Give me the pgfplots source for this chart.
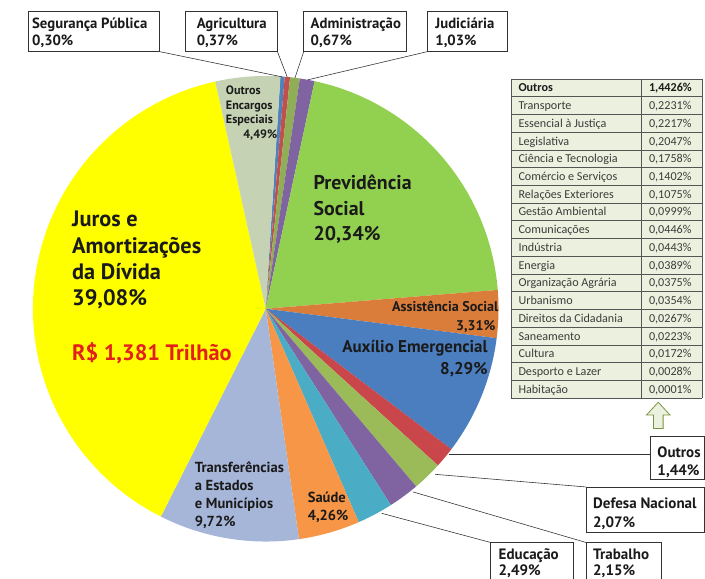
\documentclass[border=0pt]{standalone}
\usepackage{pgfplots}
\pgfplotsset{compat=1.18}
\usepackage{pgfplotstable}
\usepackage{fontspec}
\setmainfont{Carlito}
\newfontfamily\labfam{PT Sans}

\definecolor{c0}{HTML}{4F81BD}
\definecolor{c1}{HTML}{C0504D}
\definecolor{c2}{HTML}{8FAE55}
\definecolor{c3}{HTML}{8064A2}
\definecolor{c4}{HTML}{92D050}
\definecolor{c5}{HTML}{DA7D3A}
\definecolor{c6}{HTML}{4A7EBF}
\definecolor{c7}{HTML}{C9474A}
\definecolor{c8}{HTML}{9BBB59}
\definecolor{c9}{HTML}{8064A2}
\definecolor{c10}{HTML}{4BACC6}
\definecolor{c11}{HTML}{F79646}
\definecolor{c12}{HTML}{A6B6D8}
\definecolor{c13}{HTML}{FFFF00}
\definecolor{c14}{HTML}{C5D3B4}
\definecolor{tabfill}{HTML}{EBF1DE}
\definecolor{tabline}{HTML}{555555}
\definecolor{arrowline}{HTML}{77933C}
\definecolor{txt}{HTML}{1A1A1A}
\definecolor{redtxt}{HTML}{E3201B}

% Pie data (percent), clockwise from the top
\pgfplotstableread[col sep=comma]{
name,value
Seguranca Publica,0.30
Agricultura,0.37
Administracao,0.67
Judiciaria,1.03
Previdencia Social,20.34
Assistencia Social,3.31
Auxilio Emergencial,8.29
Outros,1.44
Defesa Nacional,2.07
Trabalho,2.15
Educacao,2.49
Saude,4.26
Transferencias,9.72
Juros e Amortizacoes,39.08
Outros Encargos Especiais,4.49
}\pietable

% cumulative angles
\xdef\curang{86.4}
\pgfplotsforeachungrouped \i in {0,...,14}{%
  \pgfplotstablegetelem{\i}{value}\of\pietable
  \pgfmathsetmacro\endang{\curang-3.6*\pgfplotsretval}%
  \expandafter\xdef\csname sa\i\endcsname{\curang}%
  \expandafter\xdef\csname ea\i\endcsname{\endang}%
  \xdef\curang{\endang}%
}

\newcommand\tabfont{\fontsize{12.5}{14}\selectfont}
\newcommand\trow[3]{%
  \node[anchor=base west, font=\tabfont, text=txt!85] at (axis cs:510,{513-18.2*#1-13.3}) {#2};
  \node[anchor=base west, font=\tabfont, text=txt!85] at (axis cs:644,{513-18.2*#1-13.3}) {#3};
}
\newcommand\LF[1]{\fontsize{#1}{#1}\labfam\bfseries\selectfont}

\begin{document}
\begin{tikzpicture}
\begin{axis}[x=1bp, y=1bp, xmin=0, xmax=705, ymin=0, ymax=594,
  hide axis, clip=false, anchor=origin, at={(0,0)}]
\path (axis cs:0,0) rectangle (axis cs:705,594);

% pie wedges
\pgfplotsinvokeforeach{0,...,14}{%
  \fill[c#1] (axis cs:254,277) -- ++(\csname sa#1\endcsname:239bp)
    arc[start angle=\csname sa#1\endcsname, end angle=\csname ea#1\endcsname, radius=239bp] -- cycle;
}

\begin{scope}[every node/.style={inner sep=0pt, text=txt}]
% big labels
\node[anchor=base west, font=\LF{23}] at (axis cs:55,361) {Juros e};
\node[anchor=base west, font=\LF{23}] at (axis cs:55,334) {Amortizações};
\node[anchor=base west, font=\LF{23}] at (axis cs:55,307) {da Dívida};
\node[anchor=base west, font=\LF{23}] at (axis cs:55,280) {39,08\%};
\node[anchor=base west, font=\LF{23}, text=redtxt] at (axis cs:55,224) {R\$ 1,381 Trilhão};

\node[anchor=base west, font=\LF{20.5}] at (axis cs:303,399) {Previdência};
\node[anchor=base west, font=\LF{20.5}] at (axis cs:303,373) {Social};
\node[anchor=base west, font=\LF{20.5}] at (axis cs:303,347) {20,34\%};

\node[anchor=base east, font=\LF{14.5}] at (axis cs:493,274) {Assistência Social};
\node[anchor=base east, font=\LF{14.5}] at (axis cs:490,255) {3,31\%};

\node[anchor=base east, font=\LF{17.5}] at (axis cs:482,232) {Auxílio Emergencial};
\node[anchor=base east, font=\LF{17.5}] at (axis cs:482,210) {8,29\%};

\node[anchor=base west, font=\LF{15}] at (axis cs:181,109) {Transferências};
\node[anchor=base west, font=\LF{15}] at (axis cs:181,90) {a Estados};
\node[anchor=base west, font=\LF{15}] at (axis cs:181,72) {e Municípios};
\node[anchor=base west, font=\LF{15}] at (axis cs:181,53) {9,72\%};

\node[anchor=base west, font=\LF{15}] at (axis cs:297,78) {Saúde};
\node[anchor=base west, font=\LF{15}] at (axis cs:297,60) {4,26\%};

\node[anchor=base west, font=\LF{12.5}] at (axis cs:213,497) {Outros};
\node[anchor=base west, font=\LF{12.5}] at (axis cs:213,482) {Encargos};
\node[anchor=base west, font=\LF{12.5}] at (axis cs:213,467) {Especiais};
\node[anchor=base east, font=\LF{12.5}] at (axis cs:266,452) {4,49\%};
\end{scope}

% top callouts
\draw[black!80, line width=0.6pt] (axis cs:145,541) -- (axis cs:271,515);
\draw[black!80, line width=0.6pt] (axis cs:266,541) -- (axis cs:276,515);
\draw[black!80, line width=0.6pt] (axis cs:293,541) -- (axis cs:284,514);
\draw[black!80, line width=0.6pt] (axis cs:420,541) -- (axis cs:297,512);
\draw[black!80, line width=0.6pt, fill=white] (axis cs:10,541) rectangle (axis cs:145,582);
\draw[black!80, line width=0.6pt, fill=white] (axis cs:171,541) rectangle (axis cs:266,582);
\draw[black!80, line width=0.6pt, fill=white] (axis cs:293,541) rectangle (axis cs:398,582);
\draw[black!80, line width=0.6pt, fill=white] (axis cs:420,541) rectangle (axis cs:502,582);

% right / bottom callouts
\draw[black!80, line width=0.6pt] (axis cs:442,128) -- (axis cs:649,128);
\draw[black!80, line width=0.6pt] (axis cs:428,107) -- (axis cs:583,94);
\draw[black!80, line width=0.6pt] (axis cs:405,89) -- (axis cs:583,37);
\draw[black!80, line width=0.6pt] (axis cs:373,67) -- (axis cs:485,37);
\draw[black!80, line width=0.6pt, fill=white] (axis cs:649,102) rectangle (axis cs:704,146);
\draw[black!80, line width=0.6pt, fill=white] (axis cs:583,47) rectangle (axis cs:704,94);
\draw[black!80, line width=0.6pt] (axis cs:583,0) -- (axis cs:583,37) -- (axis cs:660,37) -- (axis cs:660,0);
\draw[black!80, line width=0.6pt] (axis cs:485,0) -- (axis cs:485,37) -- (axis cs:570,37) -- (axis cs:570,0);

\begin{scope}[every node/.style={inner sep=0pt, text=txt, anchor=base west}]
\node[font=\LF{15.2}] at (axis cs:14,565) {Segurança Pública};
\node[font=\LF{15.2}] at (axis cs:14,547) {0,30\%};
\node[font=\LF{15.2}] at (axis cs:183,565) {Agricultura};
\node[font=\LF{15.2}] at (axis cs:183,547) {0,37\%};
\node[font=\LF{15.2}] at (axis cs:300,565) {Administração};
\node[font=\LF{15.2}] at (axis cs:300,547) {0,67\%};
\node[font=\LF{15.2}] at (axis cs:428,565) {Judiciária};
\node[font=\LF{15.2}] at (axis cs:428,547) {1,03\%};

\node[font=\LF{15.5}] at (axis cs:656,124) {Outros};
\node[font=\LF{15.5}] at (axis cs:656,106) {1,44\%};
\node[font=\LF{15.5}] at (axis cs:590,72) {Defesa Nacional};
\node[font=\LF{15.5}] at (axis cs:590,52) {2,07\%};
\node[font=\LF{15.5}] at (axis cs:590,20) {Trabalho};
\node[font=\LF{15.5}] at (axis cs:590,3) {2,15\%};
\node[font=\LF{15.5}] at (axis cs:493,20) {Educação};
\node[font=\LF{15.5}] at (axis cs:493,3) {2,49\%};
\end{scope}

% arrow
\draw[arrowline, line width=0.8pt, fill=tabfill] (axis cs:657,181) -- (axis cs:669,168) -- (axis cs:662,168) -- (axis cs:662,154) -- (axis cs:652,154) -- (axis cs:652,168) -- (axis cs:645,168) -- cycle;

% table
\fill[tabfill] (axis cs:506,513) rectangle (axis cs:702,185.4);
\pgfplotsinvokeforeach{0,...,18}{%
  \draw[tabline, line width=0.5pt] (axis cs:506,{513-18.2*#1}) -- (axis cs:702,{513-18.2*#1});
}
\draw[tabline, line width=0.5pt] (axis cs:506,513) -- (axis cs:506,185.4);
\draw[tabline, line width=0.5pt] (axis cs:640,513) -- (axis cs:640,185.4);
\draw[tabline, line width=0.5pt] (axis cs:702,513) -- (axis cs:702,185.4);
\node[anchor=base west, font=\tabfont\bfseries, text=txt] at (axis cs:510,{513-13.3}) {Outros};
\node[anchor=base west, font=\tabfont\bfseries, text=txt] at (axis cs:644,{513-13.3}) {1,4426\%};
\trow{1}{Transporte}{0,2231\%}
\trow{2}{Essencial à Justiça}{0,2217\%}
\trow{3}{Legislativa}{0,2047\%}
\trow{4}{Ciência e Tecnologia}{0,1758\%}
\trow{5}{Comércio e Serviços}{0,1402\%}
\trow{6}{Relações Exteriores}{0,1075\%}
\trow{7}{Gestão Ambiental}{0,0999\%}
\trow{8}{Comunicações}{0,0446\%}
\trow{9}{Indústria}{0,0443\%}
\trow{10}{Energia}{0,0389\%}
\trow{11}{Organização Agrária}{0,0375\%}
\trow{12}{Urbanismo}{0,0354\%}
\trow{13}{Direitos da Cidadania}{0,0267\%}
\trow{14}{Saneamento}{0,0223\%}
\trow{15}{Cultura}{0,0172\%}
\trow{16}{Desporto e Lazer}{0,0028\%}
\trow{17}{Habitação}{0,0001\%}
\end{axis}
\end{tikzpicture}
\end{document}
